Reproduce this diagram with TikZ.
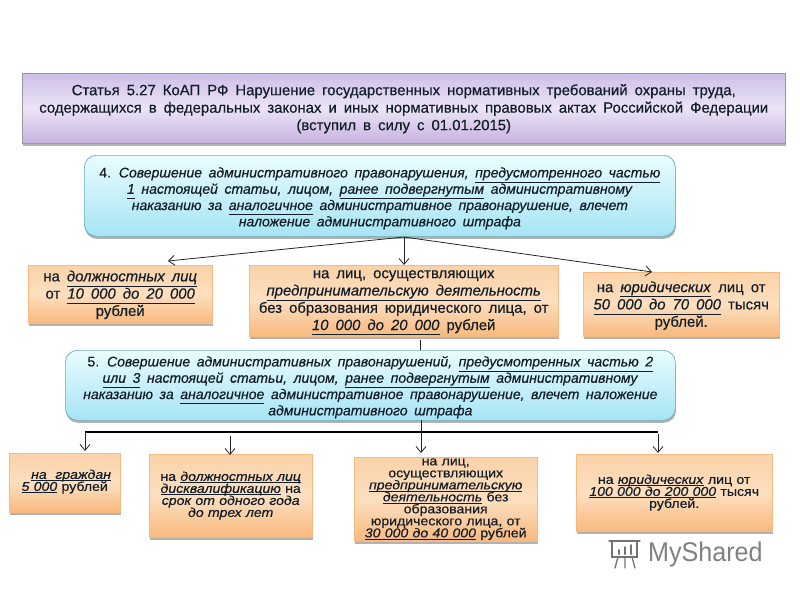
\documentclass[tikz,border=0pt]{standalone}
\usepackage{fontspec}
\setmainfont{Liberation Sans}[FakeBold=0.5,WordSpace=1.7]
\newfontfamily\tightfont{Liberation Sans}[FakeBold=0.5,WordSpace=1.1,FakeStretch=1.1]
\newfontfamily\logofont{Liberation Sans}[FakeStretch=0.93]
\usetikzlibrary{shadows,arrows.meta}
\definecolor{ink}{HTML}{141E28}
\definecolor{edgeb}{HTML}{6FA9B8}
\definecolor{vioT}{HTML}{CDBFE6}
\definecolor{vioM}{HTML}{ECE4F6}
\definecolor{vioB}{HTML}{C6B2E0}
\definecolor{bluT}{HTML}{E9FCFF}
\definecolor{bluB}{HTML}{A6E4F4}
\definecolor{oraT}{HTML}{FAD2A8}
\definecolor{oraM}{HTML}{FDDFC0}
\definecolor{oraB}{HTML}{F8B97E}
\newcommand{\evenlines}{\setlength{\lineskiplimit}{-100pt}}
\tikzset{
  x=1pt,y=-1pt,
  boxbase/.style={shade,shading angle=0,text=ink,align=center,inner sep=0pt,anchor=north west,
    drop shadow={shadow xshift=0.6pt,shadow yshift=-2.5pt,fill=black!60,opacity=.5}},
  banner/.style={boxbase,draw=black!40,line width=.5pt,top color=vioT,bottom color=vioB,middle color=vioM,
    font=\fontsize{14.9}{17.5}\selectfont\evenlines},
  bluebox/.style={boxbase,rounded corners=12pt,draw=edgeb,line width=.7pt,top color=bluT,bottom color=bluB,
    font=\fontsize{14}{16.3}\selectfont\evenlines},
  orange/.style={boxbase,top color=oraT,bottom color=oraB,middle color=oraM,draw=oraB,line width=.4pt,
    font=\fontsize{14.9}{17.3}\selectfont\evenlines},
  orangetight/.style={orange,font=\tightfont\fontsize{12.8}{12}\selectfont\evenlines},
  link/.style={draw=black!85,line width=.8pt},
  arrowlink/.style={link,-{Straight Barb[length=6pt,width=10pt]}},
  bus/.style={draw=black,line width=1.6pt},
}
\newcommand{\ul}[1]{\underline{\smash{\textit{#1}}\vphantom{y}}}
\newcommand{\tul}[1]{\underline{\smash{\textit{#1}}}}
\newcommand{\hs}[1]{\rule{0pt}{#1pt}}
\begin{document}
\begin{tikzpicture}
\useasboundingbox (0,0) rectangle (800,600);
\node[banner,minimum width=763pt,minimum height=70pt] (head) at (22,73) {\hs{12}Статья 5.27 КоАП РФ Нарушение государственных нормативных требований охраны труда,\\содержащихся в федеральных законах и иных нормативных правовых актах Российской Федерации\\(вступил в силу с 01.01.2015)};

\node[bluebox,minimum width=591pt,minimum height=81pt] (b4) at (84,155) {\hs{15}4. \textit{Совершение административного правонарушения,} \ul{предусмотренного частью}\\\ul{1} \textit{настоящей статьи, лицом,} \ul{ранее подвергнутым} \textit{административному}\\\textit{наказанию за} \ul{аналогичное} \textit{административное правонарушение, влечет}\\\textit{наложение административного штрафа}};

\node[orange,minimum width=184pt,minimum height=58pt] (a1) at (28,265) {\hs{12}на \ul{должностных лиц}\\от \ul{10 000 до 20 000}\\рублей};
\node[orange,minimum width=309pt,minimum height=71pt] (a2) at (249,265) {\hs{12}на лиц, осуществляющих\\\ul{предпринимательскую деятельность}\\без образования юридического лица, от\\\ul{10 000 до 20 000} рублей};
\node[orange,minimum width=196pt,minimum height=64pt] (a3) at (583,272) {\hs{13.6}на \ul{юридических} лиц от\\\ul{50 000 до 70 000} тысяч\\рублей.};

\node[bluebox,minimum width=610pt,minimum height=70pt] (b5) at (65,350) {\hs{14}5. \textit{Совершение административных правонарушений,} \ul{предусмотренных частью 2}\\\ul{или 3} \textit{настоящей статьи, лицом,} \ul{ранее подвергнутым} \textit{административному}\\\textit{наказанию за} \ul{аналогичное} \textit{административное правонарушение, влечет наложение}\\\textit{административного штрафа}};

\node[orangetight,minimum width=111pt,minimum height=59pt] (c1) at (9,453) {\hs{7}\quad\tul{на\ \ граждан}\\\tul{5 000} рублей};
\node[orangetight,minimum width=163pt,minimum height=83pt] (c2) at (149,454) {\hs{9}на \tul{должностных лиц}\\\tul{дисквалификацию} на\\\textit{срок от одного года}\\\textit{до трех лет}};
\node[orangetight,minimum width=183pt,minimum height=84pt] (c3) at (354,457) {\hs{6}на лиц,\\осуществляющих\\\tul{предпринимательскую}\\\tul{деятельность} без\\образования\\юридического лица, от\\\tul{30 000 до 40 000} рублей};
\node[orangetight,minimum width=196pt,minimum height=77pt] (c4) at (576,454) {\hs{9}на \tul{юридических} лиц от\\\tul{100 000 до 200 000} тысяч\\рублей.};

\coordinate (s4) at (404,237);
\coordinate (t1) at (168,261);
\coordinate (t2) at (404,265);
\coordinate (t3) at (652,272);
\draw[arrowlink] (s4) -- (t1);
\draw[arrowlink] (s4) -- (t2);
\draw[arrowlink] (s4) -- (t3);

\coordinate (m1) at (420,340);
\coordinate (m2) at (420,350);
\draw[link] (m1) -- (m2);

\coordinate (busl) at (85,432);
\coordinate (busr) at (658,432);
\coordinate (s5) at (421,420);
\draw[bus] (busl) -- (busr);
\coordinate (d1a) at (85,432);  \coordinate (d1b) at (85,451);
\coordinate (d2a) at (230,436); \coordinate (d2b) at (230,455);
\coordinate (d3b) at (421,453);
\coordinate (d4a) at (658,434); \coordinate (d4b) at (658,453);
\draw[arrowlink] (d1a) -- (d1b);
\draw[arrowlink] (d2a) -- (d2b);
\draw[arrowlink] (s5) -- (d3b);
\draw[arrowlink] (d4a) -- (d4b);

% watermark
\begin{scope}[draw=black!55,line width=1.3pt,line cap=round]
\draw (609,541) -- (640,541) (612,541) -- (612,557) -- (637,557) -- (637,541);
\draw (618,557) -- (615,568) (625,557) -- (625,568) (632,557) -- (635,568);
\draw[line width=2pt] (619,554) -- (619,550) (625,554) -- (625,547) (631,554) -- (631,545);
\end{scope}
\node[text=black!50,inner sep=0pt,anchor=west,font=\fontsize{27}{27}\selectfont\logofont] (logo) at (648,555) {MyShared};
\end{tikzpicture}
\end{document}
